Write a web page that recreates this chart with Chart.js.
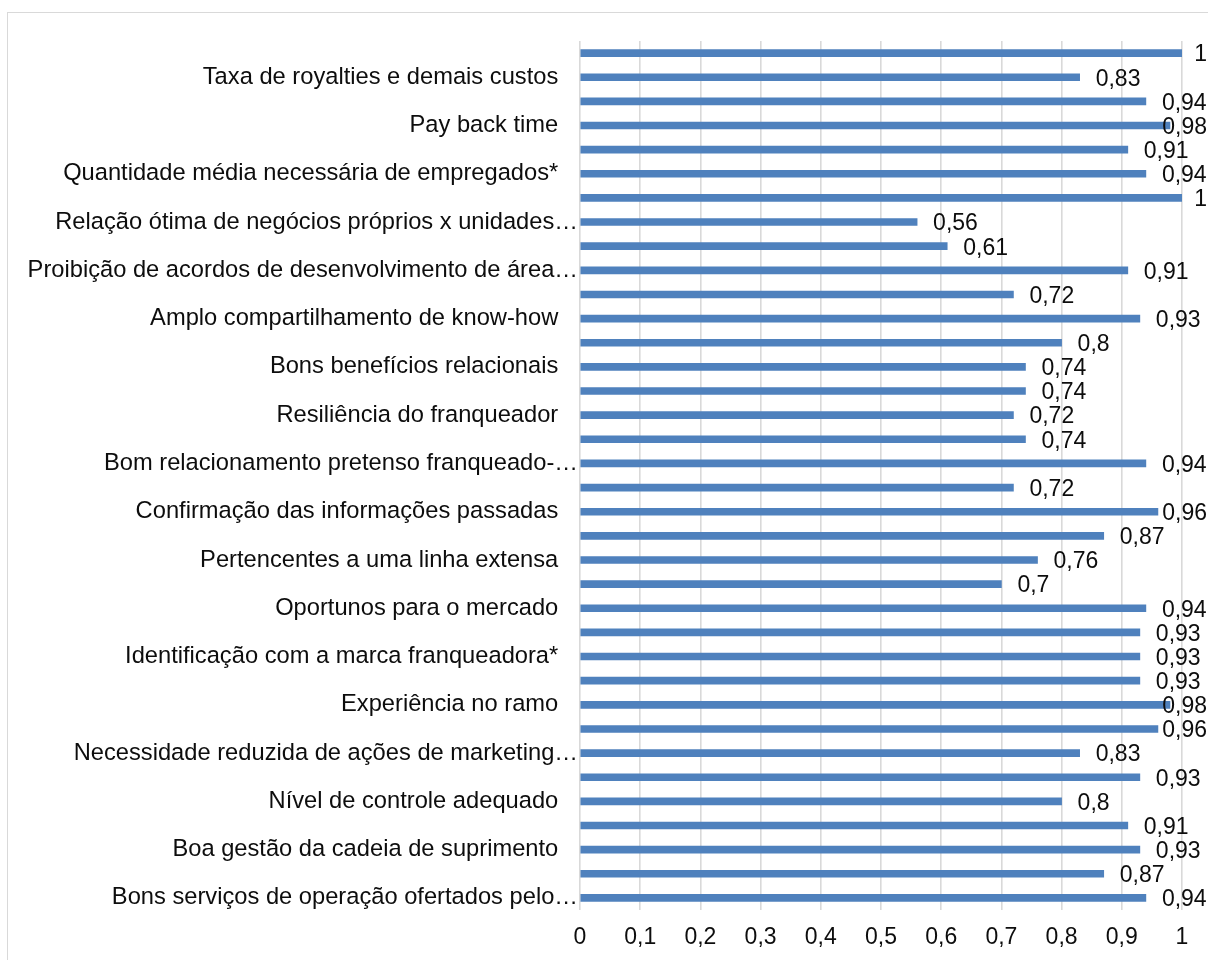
<!DOCTYPE html>
<html>
<head>
<meta charset="utf-8">
<script src="https://cdn.jsdelivr.net/npm/chart.js@4.4.0/dist/chart.umd.min.js"></script>
<style>
    html, body { margin: 0; padding: 0; background: #fff; overflow: hidden; }
    #frame {
        position: absolute; left: 7px; top: 12px; width: 1400px; height: 1200px;
        border: 1.5px solid #d9d9d9; box-sizing: border-box;
    }
    #wrap { position: absolute; left: 0; top: 0; width: 1208px; height: 960px; }
</style>
</head>
<body>
<div id="frame"></div>
<div id="wrap"><canvas id="graph" width="1208" height="960"></canvas></div>
<script>
// categories listed top to bottom; blank ones have no visible label in the picture
const categories = [
    "", "Taxa de royalties e demais custos",
    "", "Pay back time",
    "", "Quantidade média necessária de empregados*",
    "", "Relação ótima de negócios próprios x unidades…",
    "", "Proibição de acordos de desenvolvimento de área…",
    "", "Amplo compartilhamento de know-how",
    "", "Bons benefícios relacionais",
    "", "Resiliência do franqueador",
    "", "Bom relacionamento pretenso franqueado-…",
    "", "Confirmação das informações passadas",
    "", "Pertencentes a uma linha extensa",
    "", "Oportunos para o mercado",
    "", "Identificação com a marca franqueadora*",
    "", "Experiência no ramo",
    "", "Necessidade reduzida de ações de marketing…",
    "", "Nível de controle adequado",
    "", "Boa gestão da cadeia de suprimento",
    "", "Bons serviços de operação ofertados pelo…"
];

const values = [
    1, 0.83,
    0.94, 0.98,
    0.91, 0.94,
    1, 0.56,
    0.61, 0.91,
    0.72, 0.93,
    0.8, 0.74,
    0.74, 0.72,
    0.74, 0.94,
    0.72, 0.96,
    0.87, 0.76,
    0.7, 0.94,
    0.93, 0.93,
    0.93, 0.98,
    0.96, 0.83,
    0.93, 0.8,
    0.91, 0.93,
    0.87, 0.94
];

const xTicks = [0, 0.1, 0.2, 0.3, 0.4, 0.5, 0.6, 0.7, 0.8, 0.9, 1];

const BAR_COLOR = '#4f81bd';
const TEXT_COLOR = '#0d0d0d';
const FONT = "'Liberation Sans', Arial, sans-serif";

function formatNumber(v) {
    return String(Math.round(v * 100) / 100).replace('.', ',');
}

// value labels, to the right of each bar end, pushed back inside the canvas when too wide
const valueLabels = {
    id: 'valueLabels',
    afterDatasetsDraw(chart) {
        let ctx = chart.ctx;
        let meta = chart.getDatasetMeta(0);
        ctx.save();
        ctx.font = '23px ' + FONT;
        ctx.fillStyle = TEXT_COLOR;
        ctx.textAlign = 'left';
        ctx.textBaseline = 'middle';
        meta.data.forEach((bar, i) => {
            let text = formatNumber(chart.data.datasets[0].data[i]);
            let w = ctx.measureText(text).width;
            let x = bar.x + 16;
            if (x + w > chart.width - 1) {
                x = chart.width - 1 - w;
            }
            ctx.fillText(text, x, bar.y + 2);
        });
        ctx.restore();
    }
};

let context = document.querySelector('#graph');

let graph = new Chart(context, {
    type: 'bar',
    data: {
        labels: categories,
        datasets: [{
            data: values,
            backgroundColor: BAR_COLOR,
            borderWidth: 0,
            barThickness: 7
        }]
    },
    plugins: [valueLabels],
    options: {
        indexAxis: 'y',
        responsive: false,
        animation: false,
        layout: { padding: { left: 0, top: 41, right: 26, bottom: 0 } },
        plugins: {
            legend: { display: false },
            tooltip: { enabled: false }
        },
        scales: {
            x: {
                type: 'linear',
                min: 0,
                max: 1,
                afterBuildTicks: (scale) => {
                    scale.ticks = xTicks.map(v => ({ value: v }));
                },
                afterFit: (scale) => { scale.height = 50; },
                grid: { color: '#d9d9d9', lineWidth: 1.6, drawTicks: false },
                border: { display: false },
                ticks: {
                    padding: 14,
                    color: TEXT_COLOR,
                    font: { family: FONT, size: 23 },
                    callback: (v) => formatNumber(v)
                }
            },
            y: {
                afterFit: (scale) => { scale.width = 580; },
                grid: { display: false, drawTicks: false },
                border: { display: false },
                ticks: {
                    autoSkip: false,
                    padding: 2,
                    color: TEXT_COLOR,
                    font: { family: FONT, size: 23.7 },
                    callback: function (v, i) {
                        let label = categories[i];
                        if (!label) return '';
                        return label.endsWith('…') ? label : label + '   ';
                    }
                }
            }
        }
    }
});
</script>
</body>
</html>
